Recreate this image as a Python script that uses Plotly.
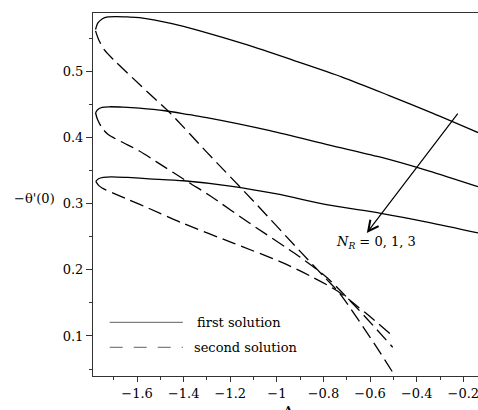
import plotly.graph_objects as go

# ---- data ----
# first solutions (solid), N_R = 0, 1, 3
x_first_0 = [-1.778, -1.768, -1.750, -1.725, -1.690, -1.640, -1.590, -1.450, -1.330, -1.130, -0.926, -0.720, -0.518, -0.330, -0.137]
y_first_0 = [0.564, 0.574, 0.580, 0.583, 0.5835, 0.583, 0.582, 0.573, 0.562, 0.541, 0.517, 0.492, 0.464, 0.437, 0.408]

x_first_1 = [-1.778, -1.768, -1.750, -1.720, -1.660, -1.590, -1.480, -1.376, -1.290, -1.030, -0.774, -0.559, -0.350, -0.137]
y_first_1 = [0.438, 0.443, 0.446, 0.447, 0.4465, 0.445, 0.441, 0.435, 0.430, 0.411, 0.389, 0.371, 0.350, 0.326]

x_first_3 = [-1.777, -1.765, -1.745, -1.710, -1.640, -1.548, -1.400, -1.200, -1.000, -0.774, -0.559, -0.350, -0.137]
y_first_3 = [0.334, 0.338, 0.340, 0.341, 0.340, 0.338, 0.335, 0.327, 0.315, 0.298, 0.286, 0.272, 0.256]

# second solutions (dashed)
x_second_0 = [-1.778, -1.765, -1.740, -1.700, -1.590, -1.520, -1.462, -1.300, -1.100, -0.900, -0.790, -0.730, -0.600, -0.503]
y_second_0 = [0.562, 0.549, 0.533, 0.518, 0.481, 0.458, 0.439, 0.378, 0.304, 0.228, 0.187, 0.164, 0.098, 0.045]

x_second_1 = [-1.778, -1.770, -1.750, -1.724, -1.667, -1.590, -1.518, -1.376, -1.290, -1.118, -0.903, -0.787, -0.650, -0.503]
y_second_1 = [0.438, 0.428, 0.415, 0.405, 0.394, 0.380, 0.364, 0.332, 0.313, 0.271, 0.220, 0.189, 0.140, 0.083]

x_second_3 = [-1.777, -1.765, -1.750, -1.700, -1.634, -1.548, -1.406, -1.190, -0.976, -0.847, -0.740, -0.620, -0.503]
y_second_3 = [0.334, 0.328, 0.324, 0.316, 0.306, 0.293, 0.271, 0.241, 0.211, 0.189, 0.168, 0.135, 0.100]

x_ticks_major = 0.2
y_ticks_major = 0.1
x_range = [-1.789, -0.137]
y_range = [0.0394, 0.589]

legend_labels = ["first solution", "second solution"]
annotation_text = "<i>N</i><sub><i>R</i></sub> = 0, 1, 3"
arrow_head = (-0.614, 0.256)
arrow_tail = (-0.219, 0.439)
annotation_pos = (-0.573, 0.242)

FONT = "DejaVu Serif"

fig = go.Figure()

for xs, ys in [(x_first_0, y_first_0), (x_first_1, y_first_1), (x_first_3, y_first_3)]:
    fig.add_trace(go.Scatter(x=xs, y=ys, mode="lines",
                             line=dict(color="black", width=1.3, shape="spline", smoothing=0.8),
                             showlegend=False, hoverinfo="skip"))

for xs, ys in [(x_second_0, y_second_0), (x_second_1, y_second_1), (x_second_3, y_second_3)]:
    fig.add_trace(go.Scatter(x=xs, y=ys, mode="lines",
                             line=dict(color="black", width=1.3, dash="14px,6px", shape="spline", smoothing=0.8),
                             showlegend=False, hoverinfo="skip"))

# custom legend (paper coordinates)
leg_y = [0.148, 0.079]
leg_dash = ["solid", "13px,11px"]
for ly, ld, lab, tx in zip(leg_y, leg_dash, legend_labels, [0.264, 0.2565]):
    fig.add_shape(type="line", xref="paper", yref="paper", x0=0.0434, x1=0.2335, y0=ly, y1=ly,
                  line=dict(color="#808080", width=1.2, dash=ld))
    fig.add_annotation(xref="paper", yref="paper", x=tx, y=ly, text=lab, showarrow=False,
                       xanchor="left", yanchor="middle", font=dict(family=FONT, size=13, color="black"))

# arrow
fig.add_annotation(x=arrow_head[0], y=arrow_head[1], ax=arrow_tail[0], ay=arrow_tail[1],
                   xref="x", yref="y", axref="x", ayref="y", text="", showarrow=True,
                   arrowhead=5, arrowsize=1.7, arrowwidth=1.2, arrowcolor="black", standoff=0)
fig.add_annotation(x=annotation_pos[0], y=annotation_pos[1], text=annotation_text, showarrow=False,
                   xanchor="center", yanchor="middle",
                   font=dict(family=FONT, size=13, color="black"))

# axis titles
fig.add_annotation(xref="paper", yref="paper", x=-0.1515, y=0.49, text="−θ'(0)", showarrow=False,
                   xanchor="center", yanchor="middle",
                   font=dict(family=FONT, size=13, color="black"))
fig.add_annotation(xref="paper", yref="paper", x=0.506, y=-0.072, text="<b>A</b>", showarrow=False,
                   xanchor="center", yanchor="top", font=dict(family=FONT, size=11, color="black"))

fig.update_xaxes(range=x_range, dtick=x_ticks_major, tick0=0, ticks="outside", ticklen=5, tickwidth=1,
                 tickcolor="#333", showline=True, linecolor="#333", linewidth=1, mirror=True,
                 showgrid=False, zeroline=False, ticklabeloverflow="allow",
                 minor=dict(dtick=0.1, tick0=0, ticks="outside", ticklen=3, tickcolor="#333", showgrid=False),
                 tickfont=dict(family=FONT, size=13, color="black"))
fig.update_yaxes(range=y_range, dtick=y_ticks_major, tick0=0, ticks="outside", ticklen=6, tickwidth=1,
                 tickcolor="#333", showline=True, linecolor="#333", linewidth=1,
                 showgrid=False, zeroline=False,
                 minor=dict(dtick=0.05, tick0=0, ticks="outside", ticklen=3, tickcolor="#333", showgrid=False),
                 tickfont=dict(family=FONT, size=13, color="black"))

fig.update_layout(width=478, height=410, margin=dict(l=93, r=0, t=13, b=34),
                  plot_bgcolor="white", paper_bgcolor="white", showlegend=False)

fig.write_html("out.html", config={"displayModeBar": False},
               post_script="document.body.style.margin='0';document.body.style.overflow='hidden';")
